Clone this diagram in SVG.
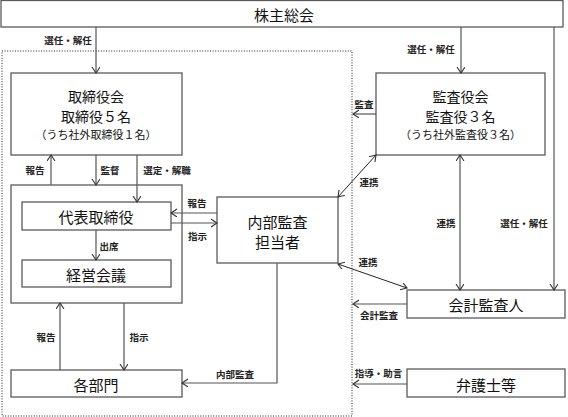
<svg xmlns="http://www.w3.org/2000/svg" width="568" height="417" viewBox="0 0 568 417">
<defs>
<style>
.box{fill:#fff;stroke:#5a5a5a;stroke-width:1.3}
.dot{fill:none;stroke:#222;stroke-width:1;stroke-dasharray:1 1.6}
.ln{fill:none;stroke:#555;stroke-width:1.2}
.dl{fill:none;stroke:#222;stroke-width:1}
.t{font-family:"Noto Sans CJK JP","Noto Sans",sans-serif;font-size:15px;fill:#111;text-anchor:middle;dominant-baseline:central}
.m{font-family:"Noto Sans CJK JP","Noto Sans",sans-serif;font-size:14px;fill:#111;text-anchor:middle;dominant-baseline:central}
.s{font-family:"Noto Sans CJK JP","Noto Sans",sans-serif;font-size:11px;fill:#111;text-anchor:middle;dominant-baseline:central}
.l{font-family:"Noto Sans CJK JP","Noto Sans",sans-serif;font-size:9.5px;font-weight:bold;fill:#222;text-anchor:middle;dominant-baseline:central}
</style>
<marker id="a" markerUnits="userSpaceOnUse" markerWidth="10" markerHeight="10" refX="6" refY="4" orient="auto-start-reverse" viewBox="0 0 10 10">
<path d="M0,0 L6,4 L0,8" fill="none" stroke="#333" stroke-width="1.1"/>
</marker>
</defs>
<rect class="dot" x="2" y="51" width="350" height="365"/>
<g id="kabunushi"><rect class="box" x="1" y="0.5" width="562" height="26.5"/><text class="t" x="284" y="14">株主総会</text></g>
<g id="torishimariyakukai"><rect class="box" x="11" y="73" width="171" height="82"/>
<text class="m" x="96" y="96">取締役会</text><text class="m" x="96" y="116">取締役５名</text><text class="s" x="96" y="134">（うち社外取締役１名）</text></g>
<g id="keiei-group"><rect class="box" x="11" y="185" width="171" height="118"/></g>
<g id="daihyo"><rect class="box" x="22" y="202" width="149" height="28"/><text class="t" x="96" y="216">代表取締役</text></g>
<g id="keieikaigi"><rect class="box" x="22" y="260" width="149" height="27"/><text class="t" x="96" y="274">経営会議</text></g>
<g id="kakubumon"><rect class="box" x="11" y="370" width="171" height="27"/><text class="t" x="96" y="384">各部門</text></g>
<g id="naibukansa"><rect class="box" x="217" y="197" width="121" height="66"/><text class="t" x="277.5" y="221">内部監査</text><text class="t" x="277.5" y="241">担当者</text></g>
<g id="kansayakukai"><rect class="box" x="376" y="73" width="169" height="82"/>
<text class="m" x="460.5" y="96">監査役会</text><text class="m" x="460.5" y="116">監査役３名</text><text class="s" x="460.5" y="134">（うち社外監査役３名）</text></g>
<g id="kaikeikansanin"><rect class="box" x="407" y="290" width="158" height="28"/><text class="t" x="486" y="304">会計監査人</text></g>
<g id="bengoshi"><rect class="box" x="407" y="369" width="158" height="28"/><text class="t" x="486" y="384">弁護士等</text></g>
<g id="connectors">
<path class="ln" d="M96,27 V73" marker-end="url(#a)"/>
<path class="ln" d="M461,27 V73" marker-end="url(#a)"/>
<path class="ln" d="M554,27 V290" marker-end="url(#a)"/>
<path class="ln" d="M51,185 V155" marker-end="url(#a)"/>
<path class="ln" d="M96,155 V185" marker-end="url(#a)"/>
<path class="ln" d="M137,155 V202" marker-end="url(#a)"/>
<path class="ln" d="M217,213 H171" marker-end="url(#a)"/>
<path class="ln" d="M171,223 H217" marker-end="url(#a)"/>
<path class="ln" d="M96,230 V260" marker-end="url(#a)"/>
<path class="ln" d="M60,370 V303" marker-end="url(#a)"/>
<path class="ln" d="M124,303 V370" marker-end="url(#a)"/>
<path class="ln" d="M277,263 V383 H182" marker-end="url(#a)"/>
<path class="ln" d="M376,114 H353" marker-end="url(#a)"/>
<path class="dl" d="M338,197 L376,155" marker-start="url(#a)" marker-end="url(#a)"/>
<path class="dl" d="M338,264 L407,288" marker-start="url(#a)" marker-end="url(#a)"/>
<path class="ln" d="M460,155 V290" marker-start="url(#a)" marker-end="url(#a)"/>
<path class="ln" d="M407,304 H353" marker-end="url(#a)"/>
<path class="ln" d="M407,384 H353" marker-end="url(#a)"/>
<text class="l" x="68" y="40">選任・解任</text>
<text class="l" x="431" y="49">選任・解任</text>
<text class="l" x="364" y="104">監査</text>
<text class="l" x="369" y="182">連携</text>
<text class="l" x="35" y="170">報告</text>
<text class="l" x="110" y="170">監督</text>
<text class="l" x="167" y="170">選定・解職</text>
<text class="l" x="197" y="203">報告</text>
<text class="l" x="197.5" y="236">指示</text>
<text class="l" x="109" y="246">出席</text>
<text class="l" x="368" y="262">連携</text>
<text class="l" x="446" y="223">連携</text>
<text class="l" x="524" y="223">選任・解任</text>
<text class="l" x="379" y="315">会計監査</text>
<text class="l" x="378.5" y="373">指導・助言</text>
<text class="l" x="235" y="374">内部監査</text>
<text class="l" x="46" y="337">報告</text>
<text class="l" x="139" y="337">指示</text>
</g>
</svg>
